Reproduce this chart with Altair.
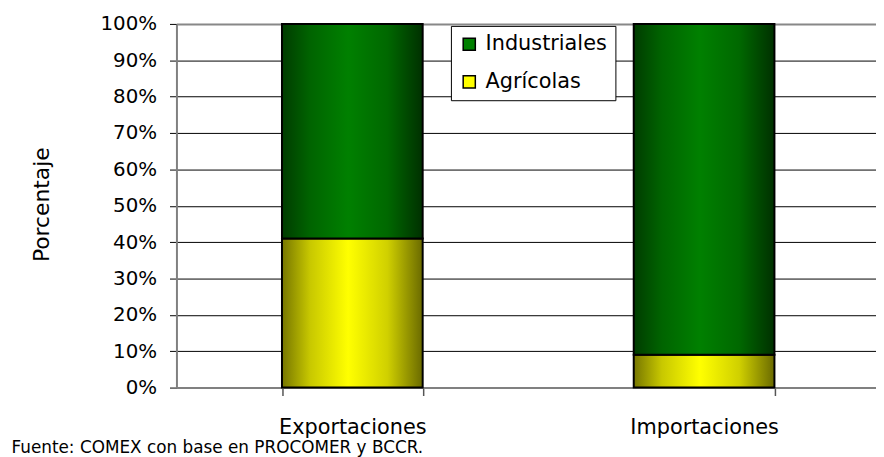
import altair as alt
import pandas as pd

categorias = ["Exportaciones", "Importaciones"]
agricolas = [41, 9]
industriales = [59, 91]
series = ["Industriales", "Agrícolas"]
series_colors = ["#008000", "#ffff00"]
y_ticks = [0, 10, 20, 30, 40, 50, 60, 70, 80, 90, 100]

df = pd.DataFrame({
    "categoria": categorias,
    "agricolas": agricolas,
    "industriales": industriales,
})
df["tope"] = df["agricolas"] + df["industriales"]

df_leg = pd.DataFrame({
    "categoria": categorias * 2,
    "serie": [series[0]] * 2 + [series[1]] * 2,
    "agricolas": agricolas + agricolas,
})

FONT = "DejaVu Sans"

yellow = alt.Gradient(
    gradient="linear", x1=0, x2=1, y1=0, y2=0,
    stops=[
        alt.GradientStop(offset=0, color="#767600"),
        alt.GradientStop(offset=0.2, color="#c8c800"),
        alt.GradientStop(offset=0.47, color="#ffff00"),
        alt.GradientStop(offset=0.75, color="#d0d000"),
        alt.GradientStop(offset=1, color="#6a6a00"),
    ],
)
green = alt.Gradient(
    gradient="linear", x1=0, x2=1, y1=0, y2=0,
    stops=[
        alt.GradientStop(offset=0, color="#003c00"),
        alt.GradientStop(offset=0.2, color="#006400"),
        alt.GradientStop(offset=0.47, color="#008000"),
        alt.GradientStop(offset=0.75, color="#006800"),
        alt.GradientStop(offset=1, color="#003000"),
    ],
)

x_axis = alt.Axis(
    title="Fuente: COMEX con base en PROCOMER y BCCR.",
    titleFont=FONT, titleFontSize=17, titleFontWeight="normal",
    titleColor="black", titleAlign="left", titleBaseline="alphabetic",
    titleAnchor="start", titleX=-167, titleY=66,
    labelFont=FONT, labelFontSize=21, labelColor="black", labelAngle=0,
    labelPadding=21,
    domainColor="#808080", domainWidth=2,
    tickColor="#555555", tickSize=8, tickWidth=1.5, tickBand="extent",
    grid=False,
)
x_scale = alt.Scale(range=[0, 710], paddingInner=0.6, paddingOuter=0.3)

y_scale = alt.Scale(domain=[0, 100], nice=False)
y_axis = alt.Axis(
    title="Porcentaje",
    titleFont=FONT, titleFontSize=22, titleFontWeight="normal", titleColor="black",
    titleX=-136, titleY=182, titleAlign="center", titleBaseline="middle", titleAngle=-90,
    values=y_ticks,
    labelExpr="datum.value + '%'",
    labelOverlap=False,
    labelFont=FONT, labelFontSize=20, labelColor="black", labelPadding=13,
    domainColor="#808080", domainWidth=2,
    tickColor="black", tickSize=7, tickWidth=1,
    grid=True,
    gridColor={"condition": {"test": "datum.value === 100 || datum.value === 0", "value": "#888888"}, "value": "black"},
    gridWidth={"condition": {"test": "datum.value === 100 || datum.value === 0", "value": 2}, "value": 1},
)

def xe():
    return alt.X("categoria:N", sort=categorias, scale=x_scale, axis=x_axis)

def ye():
    return alt.Y("agricolas:Q", scale=y_scale, axis=y_axis)

bar_agr = alt.Chart(df).mark_bar(color=yellow, stroke="black", strokeWidth=2).encode(
    x=xe(), y=ye(),
)

bar_ind = alt.Chart(df).mark_bar(color=green, stroke="black", strokeWidth=2).encode(
    x=xe(), y=ye(), y2="tope:Q",
)

legend_layer = alt.Chart(df_leg).mark_square(opacity=0).encode(
    x=xe(), y=ye(),
    fill=alt.Fill(
        "serie:N",
        scale=alt.Scale(domain=series, range=series_colors),
        legend=alt.Legend(
            title=None,
            orient="none", legendX=277, legendY=2,
            direction="vertical",
            fillColor="white", strokeColor="black", padding=8,
            symbolType="square", symbolSize=150, symbolOpacity=1,
            symbolStrokeColor="black", symbolStrokeWidth=1.5,
            labelFont=FONT, labelFontSize=21, labelColor="black",
            labelOffset=6, rowPadding=16,
        ),
    ),
)

chart = (
    alt.layer(bar_agr, bar_ind, legend_layer)
    .properties(
        width=706, height=367,
        autosize=alt.AutoSizeParams(type="none"),
        padding={"left": 170, "top": 14, "right": 0, "bottom": 68},
    )
    .configure_view(stroke=None)
    .configure(font=FONT, background="white")
)

chart.save("out.html", embed_options={"renderer": "svg", "actions": False})
